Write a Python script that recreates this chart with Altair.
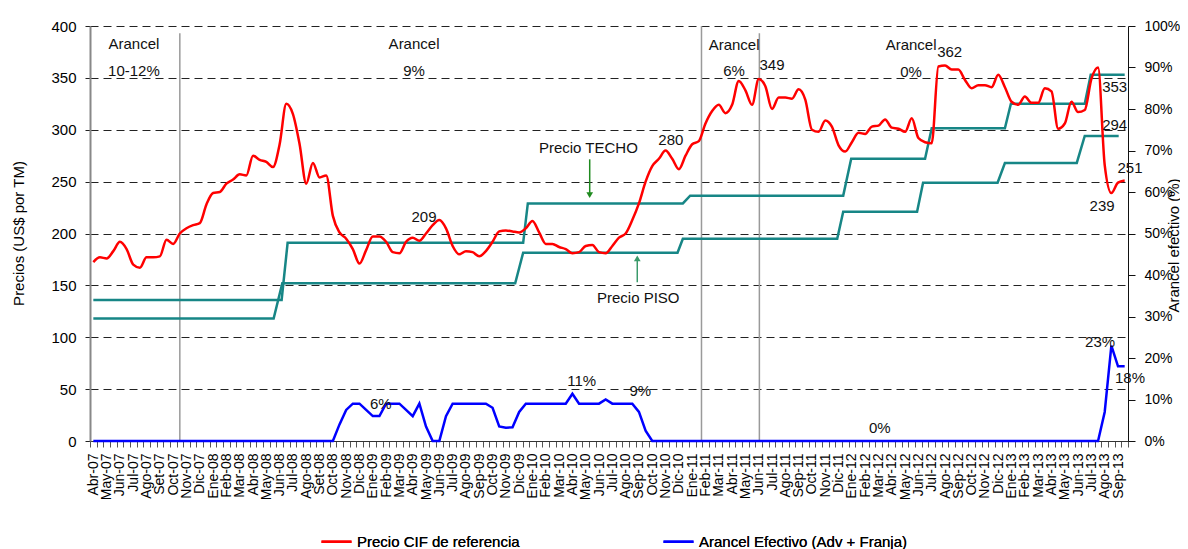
import json
import altair as alt
import pandas as pd

# ---------------- data ----------------
month_labels = [
    "Abr-07", "May-07", "Jun-07", "Jul-07", "Ago-07", "Set-07", "Oct-07", "Nov-07", "Dic-07",
    "Ene-08", "Feb-08", "Mar-08", "Abr-08", "May-08", "Jun-08", "Jul-08", "Ago-08", "Set-08", "Oct-08", "Nov-08", "Dic-08",
    "Ene-09", "Feb-09", "Mar-09", "Abr-09", "May-09", "Jun-09", "Jul-09", "Ago-09", "Sep-09", "Oct-09", "Nov-09", "Dic-09",
    "Ene-10", "Feb-10", "Mar-10", "Abr-10", "May-10", "Jun-10", "Jul-10", "Ago-10", "Sep-10", "Oct-10", "Nov-10", "Dic-10",
    "Ene-11", "Feb-11", "Mar-11", "Abr-11", "May-11", "Jun-11", "Jul-11", "Ago-11", "Sep-11", "Oct-11", "Nov-11", "Dic-11",
    "Ene-12", "Feb-12", "Mar-12", "Abr-12", "May-12", "Jun-12", "Jul-12", "Ago-12", "Sep-12", "Oct-12", "Nov-12", "Dic-12",
    "Ene-13", "Feb-13", "Mar-13", "Abr-13", "May-13", "Jun-13", "Jul-13", "Ago-13", "Sep-13",
]

# Precio CIF de referencia (US$/TM), semi-monthly, Abr-07 .. Sep-13
precio_cif = [
    172.5, 177, 176, 183, 192, 185, 170, 167, 177, 177, 178, 194, 190, 200, 205, 208, 210, 228, 239, 240,
    248, 252, 257, 256, 275, 271, 269, 264, 286, 325, 315, 286, 248, 268, 254, 256, 217, 201, 195, 185,
    171, 184, 197, 197, 192, 182, 181, 192, 196, 193, 200, 208, 213, 205, 188, 180, 183, 182, 178, 183,
    192, 202, 203, 202, 201, 205, 212, 201, 190, 190, 187, 185, 181, 182, 188, 189, 182, 181,
    188, 196, 200, 213, 229, 250, 265, 272, 280, 272, 262, 275, 286, 289, 306, 318, 324, 316, 324, 347,
    338, 324, 349, 342, 320, 331, 331, 330, 339, 329, 300, 298, 309, 303, 285, 279, 288, 297, 296,
    303, 304, 310, 302, 301, 298, 311, 292, 288, 287, 361, 362, 358, 358, 348, 340, 343, 343, 341, 353,
    341, 327, 324, 332, 326, 326, 340, 337, 301, 306, 327, 317, 319, 349, 360, 266, 239, 249, 251,
]

# Precio TECHO / PISO (US$/TM): breakpoints (position in half-months, value)
techo_t = [0, 28.3, 29.2, 64.6, 65.3, 88.6, 89.7, 112.7, 113.9, 125.0, 126.0, 137.0, 137.9, 149.0, 149.9, 155.0]
techo_v = [136, 136, 191, 191, 229, 229, 236.5, 236.5, 272, 272, 301.5, 301.5, 325, 325, 353, 353]
piso_t = [0, 27.1, 28.4, 63.4, 64.6, 87.8, 88.6, 111.8, 112.7, 123.8, 124.7, 135.9, 137.0, 147.8, 149.0, 154.1]
piso_v = [118, 118, 152, 152, 181.5, 181.5, 195, 195, 221, 221, 249, 249, 268, 268, 294, 294]

# Arancel efectivo (%): vertices (half-month position, percent)
arancel_t = [0, 36, 37, 38, 39, 40, 41, 42, 43, 44, 46, 47, 48, 49, 50, 51, 52, 53, 54, 59, 60, 61, 62, 63, 64,
             65, 71, 72, 73, 76, 77, 78, 81, 82, 83, 84, 151, 152, 153, 154, 155]
arancel_pct = [0, 0, 4, 7.5, 9, 9, 7.5, 6, 6, 9, 9, 7.5, 6, 9, 3.5, 0, 0, 6, 9, 9, 8, 3.5, 3.2, 3.3, 7,
               9, 9, 11.4, 9, 9, 10, 9, 9, 7, 2.5, 0, 0, 7, 23, 18, 18]

# vertical lines marking tariff changes
cambio_t = [13.0, 91.4, 100.1]
cambio_top = [393, 400, 393]

# annotations on the price scale
nota_txt = ["Arancel", "10-12%", "Arancel", "9%", "Arancel", "6%", "Arancel", "0%",
            "362", "349", "280", "209", "Precio TECHO", "Precio PISO", "353", "294", "251", "239"]
nota_t = [6.1, 6.1, 48.2, 48.2, 96.3, 96.3, 122.9, 122.9,
          128.7, 102.0, 86.8, 49.7, 74.4, 81.9, 153.5, 153.5, 155.8, 151.6]
nota_v = [382.6, 356.5, 382.6, 356.5, 381.6, 356.5, 381.6, 355.6,
          374.9, 362.3, 289.9, 215.5, 282.1, 138.2, 341.1, 304.3, 262.8, 226.1]

# annotations on the tariff scale
pct_txt = ["6%", "11%", "9%", "0%", "23%", "18%"]
pct_t = [43.2, 73.4, 82.2, 118.2, 151.3, 155.8]
pct_v = [8.9, 14.5, 12.1, 3.1, 23.9, 15.2]

# arrows pointing to the band lines
flecha_t = [74.6, 81.75]
flecha_desde = [271.5, 153.0]
flecha_hasta = [237.0, 176.0]
flecha_forma = ["triangle-down", "triangle-up"]
flecha_color = ["#1f8a1f", "#3a9a6a"]

# ---------------- tables ----------------
S_CIF = "Precio CIF de referencia"
S_AR = "Arancel Efectivo (Adv + Franja)"

df_cif = pd.DataFrame({"t": list(range(len(precio_cif))), "v": precio_cif, "serie": S_CIF})
df_band = pd.concat([
    pd.DataFrame({"t": techo_t, "v": techo_v, "banda": "TECHO"}),
    pd.DataFrame({"t": piso_t, "v": piso_v, "banda": "PISO"}),
])
df_ar = pd.DataFrame({"t": arancel_t, "pct": arancel_pct, "serie": S_AR})
df_rule = pd.DataFrame({"t": cambio_t, "top": cambio_top, "base": [0] * len(cambio_t)})
df_nota = pd.DataFrame({"t": nota_t, "v": nota_v, "txt": nota_txt})
df_pct = pd.DataFrame({"t": pct_t, "pct": pct_v, "txt": pct_txt})
df_fl = pd.DataFrame({"t": flecha_t, "a": flecha_desde, "b": flecha_hasta,
                      "forma": flecha_forma, "col": flecha_color})

FONT = "Liberation Sans"
xscale = alt.Scale(domain=[-0.5, 155.5], nice=False, zero=False)
yl = alt.Scale(domain=[0, 400], nice=False, zero=False)
yr = alt.Scale(domain=[0, 100], nice=False, zero=False)
color_scale = alt.Scale(domain=[S_CIF, S_AR], range=["#ff0000", "#0000ff"])

label_expr = ("(datum.value + 0.5) % 2 == 0 ? (" + json.dumps(month_labels) +
              "[(datum.value + 0.5) / 2] || '') : ''")

x_axis = alt.Axis(
    values=[k - 0.5 for k in range(157)], labelExpr=label_expr, labelAngle=270,
    labelAlign="right", labelBaseline="middle", labelOffset=3.33, labelPadding=6,
    labelFontSize=14, labelOverlap=False, labelBound=False, labelFlush=False,
    tickSize=6, tickColor="#555", domainColor="#333", grid=False, title=None,
)
left_axis = alt.Axis(
    values=list(range(0, 401, 50)), grid=True, gridDash=[8, 5], gridColor="#222",
    gridWidth=1, domainColor="#888", domainWidth=2, tickColor="#222", tickSize=5,
    labelFontSize=15, labelPadding=9, title="Precios (US$ por TM)", titleFontSize=15,
    titleFontWeight="normal", titleX=-72, titleY=207, titleAngle=270,
    titleBaseline="middle", titleAlign="center",
)
right_axis = alt.Axis(
    orient="right", values=list(range(0, 101, 10)), labelExpr="datum.value + '%'",
    grid=False, domainColor="#111", tickColor="#111", tickSize=7, labelPadding=9,
    labelFontSize=14, title="Arancel efectivo (%)", titleFontSize=15,
    titleFontWeight="normal", titleX=45, titleY=219, titleAngle=270,
    titleBaseline="middle", titleAlign="center",
)
legend = alt.Legend(
    orient="none", legendX=230, legendY=499, direction="horizontal", title=None,
    symbolType="stroke", symbolSize=900, symbolStrokeWidth=2.5, labelFontSize=15,
    labelLimit=400, columnPadding=138, labelColor="#000", labelFontWeight="normal",
)


def X():
    return alt.X("t:Q", scale=xscale, axis=x_axis)


rules = alt.Chart(df_rule).mark_rule(color="#9a9a9a", strokeWidth=1.5).encode(
    x=X(),
    y=alt.Y("base:Q", scale=yl, axis=None),
    y2="top:Q",
)
band = alt.Chart(df_band).mark_line(color="#178686", strokeWidth=2.5).encode(
    x=X(),
    y=alt.Y("v:Q", scale=yl, axis=None),
    detail="banda:N",
)
red = alt.Chart(df_cif).mark_line(strokeWidth=2.5, interpolate="monotone").encode(
    x=X(),
    y=alt.Y("v:Q", scale=yl, axis=left_axis),
    color=alt.Color("serie:N", scale=color_scale, legend=legend),
)
blue = alt.Chart(df_ar).mark_line(strokeWidth=2.5).encode(
    x=X(),
    y=alt.Y("pct:Q", scale=yr, axis=right_axis),
    color=alt.Color("serie:N", scale=color_scale, legend=legend),
)
notas = alt.Chart(df_nota).mark_text(fontSize=15, color="#111", align="center", baseline="middle").encode(
    x=X(),
    y=alt.Y("v:Q", scale=yl, axis=None),
    text="txt:N",
)
notas_pct = alt.Chart(df_pct).mark_text(fontSize=15, color="#111", align="center", baseline="middle").encode(
    x=X(),
    y=alt.Y("pct:Q", scale=yr, axis=None),
    text="txt:N",
)
fl_line = alt.Chart(df_fl).mark_rule(strokeWidth=1.5).encode(
    x=X(),
    y=alt.Y("a:Q", scale=yl, axis=None),
    y2="b:Q",
    color=alt.Color("col:N", scale=None, legend=None),
)
fl_head = alt.Chart(df_fl).mark_point(filled=True, size=45, opacity=1).encode(
    x=X(),
    y=alt.Y("b:Q", scale=yl, axis=None),
    shape=alt.Shape("forma:N", scale=None, legend=None),
    color=alt.Color("col:N", scale=None, legend=None),
)

chart = alt.layer(
    rules, band, red, blue, notas, notas_pct, fl_line, fl_head
).resolve_scale(
    y="independent", color="independent", shape="independent"
).properties(
    width=1038, height=415,
    autosize=alt.AutoSizeParams(type="none"),
    padding={"left": 82, "top": 18, "right": 52, "bottom": 108},
).configure(
    font=FONT,
).configure_view(
    stroke=None,
).configure_axis(
    labelColor="#000", titleColor="#000", labelFont=FONT, titleFont=FONT,
).configure_legend(
    labelFont=FONT,
)

chart.save("out.html", embed_options={"renderer": "svg", "actions": False})
